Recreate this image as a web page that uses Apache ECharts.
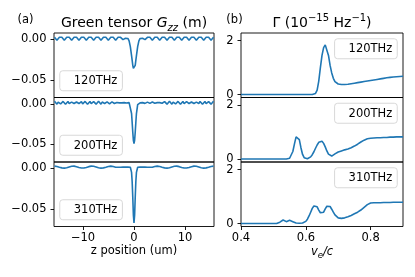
<!DOCTYPE html>
<html>
<head>
<meta charset="utf-8">
<script src="https://cdn.jsdelivr.net/npm/echarts@6/dist/echarts.min.js"></script>
<style>
  html, body { margin: 0; padding: 0; background: #fff; }
  #container { width: 415px; height: 277px; }
</style>
</head>
<body>
<div id="container"></div>
<script>
// left column: z position (um) and Green tensor Gzz (m)
var zPos = [
  -15.6, -15.36, -15.12, -14.88, -14.64, -14.4, -14.16, -13.92, -13.68, -13.44,
  -13.2, -12.96, -12.72, -12.48, -12.24, -12, -11.76, -11.52, -11.28, -11.04,
  -10.8, -10.56, -10.32, -10.08, -9.84, -9.6, -9.36, -9.12, -8.88, -8.64,
  -8.4, -8.16, -7.92, -7.68, -7.44, -7.2, -6.96, -6.72, -6.48, -6.24,
  -6, -5.76, -5.52, -5.28, -5.04, -4.8, -4.56, -4.32, -4.08, -3.84,
  -3.6, -3.36, -3.12, -2.88, -2.64, -2.4, -2.16, -1.92, -1.68, -1.44,
  -1.2,
  -0.96, -0.72, -0.48, -0.36, -0.24, -0.12, 0, 0.12, 0.24, 0.36, 0.48, 0.72, 0.96,
  1.2,
  1.44, 1.68, 1.92, 2.16, 2.4, 2.64, 2.88, 3.12, 3.36, 3.6,
  3.84, 4.08, 4.32, 4.56, 4.8, 5.04, 5.28, 5.52, 5.76, 6,
  6.24, 6.48, 6.72, 6.96, 7.2, 7.44, 7.68, 7.92, 8.16, 8.4,
  8.64, 8.88, 9.12, 9.36, 9.6, 9.84, 10.08, 10.32, 10.56, 10.8,
  11.04, 11.28, 11.52, 11.76, 12, 12.24, 12.48, 12.72, 12.96, 13.2,
  13.44, 13.68, 13.92, 14.16, 14.4, 14.64, 14.88, 15.12, 15.36, 15.6
];
var g120 = [
  0.0024, 0.0001, -0.0011, 0.0001, 0.0024, 0.0035,
  0.0024, 0.0001, -0.0011, 0.0001, 0.0024, 0.0035,
  0.0024, 0.0001, -0.0011, 0.0001, 0.0024, 0.0035,
  0.0024, 0.0001, -0.0011, 0.0001, 0.0024, 0.0035,
  0.0024, 0.0001, -0.0011, 0.0001, 0.0024, 0.0035,
  0.0024, 0.0001, -0.0011, 0.0001, 0.0024, 0.0035,
  0.0024, 0.0001, -0.0011, 0.0001, 0.0024, 0.0035,
  0.0024, 0.0001, -0.0011, 0.0001, 0.0024, 0.0035,
  0.0024, 0.0001, -0.0011, 0.0001, 0.0024, 0.0035,
  0.0024, 0.0004, -0.0004, 0.0004, 0.0012, 0.0014, 0.0010,
  -0.002, -0.009, -0.020, -0.026, -0.032, -0.0356, -0.037, -0.0356, -0.032, -0.026, -0.020, -0.009, -0.002,
  0.0010, 0.0014, 0.0012, 0.0004, -0.0004, 0.0004, 0.0024,
  0.0035, 0.0024, 0.0001, -0.0011, 0.0001, 0.0024,
  0.0035, 0.0024, 0.0001, -0.0011, 0.0001, 0.0024,
  0.0035, 0.0024, 0.0001, -0.0011, 0.0001, 0.0024,
  0.0035, 0.0024, 0.0001, -0.0011, 0.0001, 0.0024,
  0.0035, 0.0024, 0.0001, -0.0011, 0.0001, 0.0024,
  0.0035, 0.0024, 0.0001, -0.0011, 0.0001, 0.0024,
  0.0035, 0.0024, 0.0001, -0.0011, 0.0001, 0.0024,
  0.0035, 0.0024, 0.0001, -0.0011, 0.0001, 0.0024,
  0.0035, 0.0024, 0.0001, -0.0011, 0.0001, 0.0024
];
var g200 = [
  0.0030, 0.0009, -0.0005, 0.0021, 0.0026, -0.0002, 0.0003, 0.0029, 0.0015, -0.0006,
  0.0015, 0.0029, 0.0003, 0.0004, 0.0020, 0.0017, 0.0003, 0.0010, 0.0022, 0.0010,
  0.0003, 0.0021, 0.0026, -0.0002, 0.0003, 0.0029, 0.0015, -0.0006, 0.0015, 0.0029,
  0.0003, -0.0002, 0.0026, 0.0021, -0.0005, 0.0009, 0.0030, 0.0009, -0.0005, 0.0021,
  0.0026, 0.0003, 0.0006, 0.0023, 0.0014, 0.0000, 0.0014, 0.0023, 0.0006, 0.0003,
  0.0021, 0.0016, 0.0005, 0.0011, 0.0020, 0.0011, 0.0005, 0.0014, 0.0014, 0.0010,
  0.0011,
  0.0014, -0.001, -0.012, -0.023, -0.035, -0.045, -0.049, -0.045, -0.035, -0.023, -0.012, -0.001, 0.0014,
  0.0011,
  0.0010, 0.0014, 0.0014, 0.0005, 0.0011, 0.0020, 0.0011, 0.0005, 0.0016, 0.0021,
  0.0003, 0.0006, 0.0023, 0.0014, 0.0000, 0.0014, 0.0023, 0.0006, 0.0003, 0.0026,
  0.0021, -0.0005, 0.0009, 0.0030, 0.0009, -0.0005, 0.0021, 0.0026, -0.0002, 0.0003,
  0.0029, 0.0015, -0.0006, 0.0015, 0.0029, 0.0003, -0.0002, 0.0026, 0.0021, 0.0003,
  0.0010, 0.0022, 0.0010, 0.0003, 0.0017, 0.0020, 0.0004, 0.0003, 0.0029, 0.0015,
  -0.0006, 0.0015, 0.0029, 0.0003, -0.0002, 0.0026, 0.0021, -0.0005, 0.0009, 0.0030
];
var g310 = [
  0.0026, 0.0003, 0.0022, 0.0010, 0.0013, 0.0020, 0.0005, 0.0026, 0.0002, 0.0024,
  0.0007, 0.0016, 0.0016, 0.0007, 0.0024, 0.0002, 0.0026, 0.0005, 0.0019, 0.0013,
  0.0010, 0.0022, 0.0003, 0.0026, 0.0003, 0.0022, 0.0010, 0.0013, 0.0020, 0.0005,
  0.0026, 0.0002, 0.0024, 0.0007, 0.0016, 0.0016, 0.0007, 0.0024, 0.0002, 0.0026,
  0.0005, 0.0019, 0.0013, 0.0010, 0.0022, 0.0003, 0.0026, 0.0003, 0.0022, 0.0010,
  0.0013, 0.0016, 0.0012, 0.0015, 0.0013, 0.0015, 0.0014, 0.0015, 0.0014, 0.0015,
  0.0015,
  0.0015, 0.0012, -0.005, -0.0165, -0.036, -0.0575, -0.067, -0.0575, -0.036, -0.0165, -0.005, 0.0012, 0.0015,
  0.0015,
  0.0015, 0.0014, 0.0015, 0.0014, 0.0015, 0.0013, 0.0015, 0.0012, 0.0016, 0.0013,
  0.0010, 0.0022, 0.0003, 0.0026, 0.0003, 0.0022, 0.0010, 0.0013, 0.0019, 0.0005,
  0.0026, 0.0002, 0.0024, 0.0007, 0.0016, 0.0016, 0.0007, 0.0024, 0.0002, 0.0026,
  0.0005, 0.0020, 0.0013, 0.0010, 0.0022, 0.0003, 0.0026, 0.0003, 0.0022, 0.0010,
  0.0013, 0.0019, 0.0005, 0.0026, 0.0002, 0.0024, 0.0007, 0.0016, 0.0016, 0.0007,
  0.0024, 0.0002, 0.0026, 0.0005, 0.0020, 0.0013, 0.0010, 0.0022, 0.0003, 0.0026
];

// right column: v_e/c and Gamma (1e-15 Hz^-1)
var vPos = [
  0.4, 0.45, 0.5, 0.505, 0.51, 0.515, 0.52, 0.525, 0.53, 0.535,
  0.54, 0.545, 0.55, 0.555, 0.56, 0.565, 0.57, 0.575, 0.58, 0.585,
  0.59, 0.595, 0.6, 0.605, 0.61, 0.615, 0.62, 0.625, 0.63, 0.635,
  0.64, 0.645, 0.65, 0.655, 0.66, 0.665, 0.67, 0.675, 0.68, 0.685,
  0.69, 0.695, 0.7, 0.705, 0.71, 0.715, 0.72, 0.73, 0.74, 0.75,
  0.76, 0.77, 0.78, 0.79, 0.8, 0.81, 0.82, 0.83, 0.84, 0.85,
  0.86, 0.87, 0.88, 0.89, 0.9
];
var gam120 = [
  0, 0, 0, 0, 0, 0, 0, 0, 0, 0,
  0, 0, 0, 0, 0, 0, 0, 0, 0, 0,
  0, 0, 0, 0, 0, 0, 0, 0, 0.04, 0.16,
  0.50, 1.00, 1.45, 1.74, 1.84, 1.78, 1.45, 1.08, 0.80, 0.60,
  0.48, 0.42, 0.39, 0.38, 0.37, 0.37, 0.37, 0.38, 0.40, 0.42,
  0.44, 0.46, 0.48, 0.50, 0.52, 0.54, 0.56, 0.58, 0.60, 0.62,
  0.635, 0.65, 0.66, 0.67, 0.68
];
var gam200 = [
  0, 0, 0, 0, 0, 0, 0, 0, 0, 0,
  0, 0.005, 0.03, 0.10, 0.28, 0.56, 0.82, 0.89, 0.72, 0.42,
  0.17, 0.05, 0.01, 0.01, 0.03, 0.08, 0.16, 0.27, 0.40, 0.52,
  0.62, 0.67, 0.66, 0.58, 0.45, 0.30, 0.18, 0.12, 0.11, 0.14,
  0.19, 0.23, 0.26, 0.28, 0.30, 0.32, 0.34, 0.37, 0.42, 0.48,
  0.55, 0.63, 0.70, 0.75, 0.77, 0.78, 0.79, 0.79, 0.80, 0.80,
  0.81, 0.81, 0.82, 0.82, 0.82
];
var gam310 = [
  0, 0, 0, 0, 0, 0.01, 0.05, 0.12, 0.13, 0.09,
  0.07, 0.09, 0.12, 0.11, 0.07, 0.04, 0.02, 0.01, 0.01, 0.01,
  0.02, 0.04, 0.08, 0.16, 0.28, 0.42, 0.56, 0.65, 0.67, 0.62,
  0.50, 0.40, 0.37, 0.42, 0.54, 0.64, 0.67, 0.63, 0.53, 0.42,
  0.32, 0.25, 0.21, 0.19, 0.19, 0.20, 0.21, 0.25, 0.30, 0.36,
  0.42, 0.50, 0.60, 0.70, 0.76, 0.77, 0.77, 0.77, 0.78, 0.78,
  0.78, 0.79, 0.79, 0.79, 0.79
];

var freqNames = ['120THz', '200THz', '310THz'];
var zTicks = [-10, 0, 10];
var gTicks = [-0.05, 0];
var vTicks = [0.4, 0.6, 0.8];
var gamTicks = [0, 2];

var FONT = 'DejaVu Sans';
var BLUE = '#1f77b4';
var tops = [33, 97.5, 162];
var H = 64.5;

function minus(s) { return String(s).replace('-', '\u2212'); }

var grids = [], xAxes = [], yAxes = [], series = [], legends = [];
var gSets = [g120, g200, g310];
var gamSets = [gam120, gam200, gam310];

var tickLine = { color: '#000', width: 0.9 };
var labelFont = { fontFamily: FONT, fontSize: 11.5, color: '#000' };

for (var i = 0; i < 3; i++) {
  var bottom = (i === 2);
  // left panel
  grids.push({ left: 54, top: tops[i], width: 160, height: H, show: true, borderColor: '#000', borderWidth: 0.9 });
  xAxes.push({
    type: 'value', gridIndex: 2 * i, min: -15.7, max: 15.7,
    axisLine: { show: false, onZero: false }, splitLine: { show: false },
    axisTick: { show: bottom, customValues: zTicks, length: 3.5, lineStyle: tickLine },
    axisLabel: Object.assign({ show: bottom, customValues: zTicks, margin: 5.5,
      formatter: function (v) { return minus(v); } }, labelFont),
    name: bottom ? 'z position (um)' : '', nameLocation: 'middle', nameGap: 19,
    nameTextStyle: labelFont
  });
  yAxes.push({
    type: 'value', gridIndex: 2 * i, min: -0.0715, max: 0.0077,
    axisLine: { show: false, onZero: false }, splitLine: { show: false },
    axisTick: { show: true, customValues: gTicks, length: 3.5, lineStyle: tickLine },
    axisLabel: Object.assign({ customValues: gTicks, margin: 7.5,
      formatter: function (v) { return minus(v.toFixed(2)); } }, labelFont)
  });
  series.push({
    name: freqNames[i], type: 'line', xAxisIndex: 2 * i, yAxisIndex: 2 * i,
    showSymbol: false, lineStyle: { color: BLUE, width: 1.6 }, itemStyle: { color: BLUE },
    data: zPos.map(function (z, k) { return [z, gSets[i][k]]; })
  });

  // right panel
  grids.push({ left: 241, top: tops[i], width: 162, height: H, show: true, borderColor: '#000', borderWidth: 0.9 });
  xAxes.push({
    type: 'value', gridIndex: 2 * i + 1, min: 0.4, max: 0.9,
    axisLine: { show: false, onZero: false }, splitLine: { show: false },
    axisTick: { show: bottom, customValues: vTicks, length: 3.5, lineStyle: tickLine },
    axisLabel: Object.assign({ show: bottom, customValues: vTicks, margin: 5.5,
      formatter: function (v) { return v.toFixed(1); } }, labelFont),
    name: bottom ? '{i|v}{s|e}{i|/c}' : '', nameLocation: 'middle', nameGap: 18,
    nameTextStyle: Object.assign({ rich: {
      i: { fontFamily: FONT, fontSize: 11.5, fontStyle: 'italic', color: '#000', lineHeight: 16 },
      s: { fontFamily: FONT, fontSize: 8.5, fontStyle: 'italic', color: '#000', lineHeight: 9, verticalAlign: 'bottom' }
    } }, labelFont)
  });
  yAxes.push({
    type: 'value', gridIndex: 2 * i + 1, min: -0.11, max: 2.28,
    axisLine: { show: false, onZero: false }, splitLine: { show: false },
    axisTick: { show: true, customValues: gamTicks, length: 3.5, lineStyle: tickLine },
    axisLabel: Object.assign({ customValues: gamTicks, margin: 7.5 }, labelFont)
  });
  series.push({
    name: freqNames[i], type: 'line', xAxisIndex: 2 * i + 1, yAxisIndex: 2 * i + 1,
    showSymbol: false, lineStyle: { color: BLUE, width: 1.6 }, itemStyle: { color: BLUE },
    data: vPos.map(function (v, k) { return [v, gamSets[i][k]]; })
  });

  var legBase = {
    data: [freqNames[i]], icon: 'none', itemWidth: 9, itemHeight: 14, orient: 'vertical',
    padding: [3.5, 5, 3.5, 0], borderColor: '#d4d4d4', borderWidth: 0.9, borderRadius: 3,
    backgroundColor: '#fff', selectedMode: false, textStyle: labelFont
  };
  legends.push(Object.assign({ left: 59.75, top: tops[i] + H - 5.75 - 21 }, legBase));
  legends.push(Object.assign({ right: 17.75, top: tops[i] + 5.75 }, legBase));
}

var richTitle = {
  n: { fontFamily: FONT, fontSize: 14, fontWeight: 'normal', color: '#000', lineHeight: 20 },
  i: { fontFamily: FONT, fontSize: 14, fontWeight: 'normal', fontStyle: 'italic', color: '#000', lineHeight: 20 },
  s: { fontFamily: FONT, fontSize: 10, fontWeight: 'normal', fontStyle: 'italic', color: '#000', lineHeight: 10, verticalAlign: 'bottom' },
  p: { fontFamily: FONT, fontSize: 10, fontWeight: 'normal', color: '#000', lineHeight: 12, verticalAlign: 'top' }
};
var titleStyle = { fontFamily: FONT, fontSize: 14, fontWeight: 'normal', color: '#000', rich: richTitle };
var panelTag = { fontFamily: FONT, fontSize: 11.5, fontWeight: 'normal', color: '#000' };

var myChart = echarts.init(document.getElementById('container'));
var option = {
  animation: false,
  backgroundColor: '#fff',
  title: [
    { text: '(a)', left: 25.5, top: 14, textAlign: 'center', padding: 0, textStyle: panelTag },
    { text: '(b)', left: 234.5, top: 14, textAlign: 'center', padding: 0, textStyle: panelTag },
    { text: '{n|Green tensor }{i|G}{s|zz}{n| (m)}', left: 134, top: 13.5, textAlign: 'center', padding: 0,
      textStyle: titleStyle },
    { text: '{n|\u0393 (10}{p|\u221215}{n| Hz}{p|\u22121}{n|)}', left: 322, top: 13.5, textAlign: 'center', padding: 0,
      textStyle: titleStyle }
  ],
  legend: legends,
  grid: grids,
  xAxis: xAxes,
  yAxis: yAxes,
  series: series
};
myChart.setOption(option);
</script>
</body>
</html>
